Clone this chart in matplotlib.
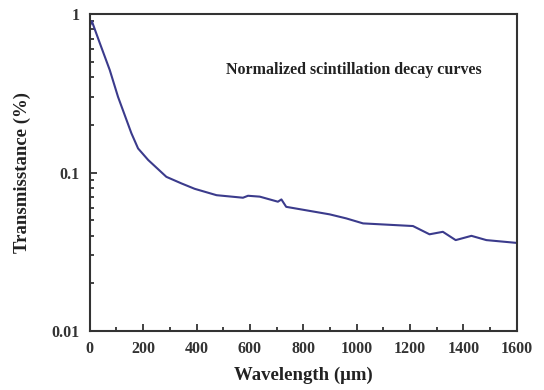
import numpy as np
import matplotlib.pyplot as plt
from matplotlib.ticker import MultipleLocator, FixedLocator, LogLocator, NullFormatter

# values
wavelength = [0, 8, 37, 75, 106, 156, 181, 219, 287, 343, 393, 475, 574, 593, 637,
              705, 718, 736, 899, 961, 1024, 1211, 1273, 1323, 1371, 1430, 1486, 1600]
transmittance = [0.84, 0.90, 0.66, 0.443, 0.30, 0.177, 0.142, 0.12, 0.094, 0.0855,
                 0.079, 0.072, 0.0694, 0.0714, 0.0705, 0.0655, 0.0677, 0.0608, 0.0545,
                 0.0514, 0.0478, 0.046, 0.0408, 0.0423, 0.0375, 0.0399, 0.0375, 0.036]
y_ticks = [0.01, 0.1, 1]
y_tick_labels = ['0.01', '0.1', '1']
x_ticks = list(range(0, 1601, 200))

plt.rcParams['font.family'] = ['Liberation Serif', 'DejaVu Serif']
plt.rcParams['font.weight'] = 'bold'

fig = plt.figure(figsize=(5.44, 3.9), dpi=100)
ax = fig.add_axes([0.165, 0.151, 0.785, 0.813])

ax.plot(wavelength, transmittance, color='#3b3b8c', lw=1.5)

ax.set_yscale('log')
ax.set_xlim(0, 1600)
ax.set_ylim(0.01, 1)

ax.xaxis.set_major_locator(FixedLocator(x_ticks))
ax.xaxis.set_minor_locator(MultipleLocator(100))
ax.yaxis.set_major_locator(FixedLocator(y_ticks))
ax.set_yticklabels(y_tick_labels)
ax.yaxis.set_minor_locator(LogLocator(base=10, subs=np.arange(2, 10)))
ax.yaxis.set_minor_formatter(NullFormatter())

ax.tick_params(which='both', direction='in', labelsize=11.5, width=1.3, colors='#333333',
               labelcolor='#333333')
ax.tick_params(axis='x', which='major', pad=7)
ax.tick_params(axis='y', which='major', pad=7)
ax.tick_params(which='major', length=5)
ax.tick_params(which='minor', length=3)
for lab in ax.get_xticklabels() + ax.get_yticklabels():
    lab.set_fontweight('bold')
for sp in ax.spines.values():
    sp.set_linewidth(1.5)
    sp.set_color('#333333')

ax.set_xlabel('Wavelength (\u03bcm)', fontsize=13.5, fontweight='bold', color='#222222',
              labelpad=7)
ax.set_ylabel('Transmisstance (%)', fontsize=13.5, fontweight='bold', color='#222222',
              labelpad=15)

ax.text(0.618, 0.823, 'Normalized scintillation decay curves', transform=ax.transAxes,
        fontsize=11.5, fontweight='bold', ha='center', va='center', color='#222222')

fig.savefig('out.png', dpi=100)
